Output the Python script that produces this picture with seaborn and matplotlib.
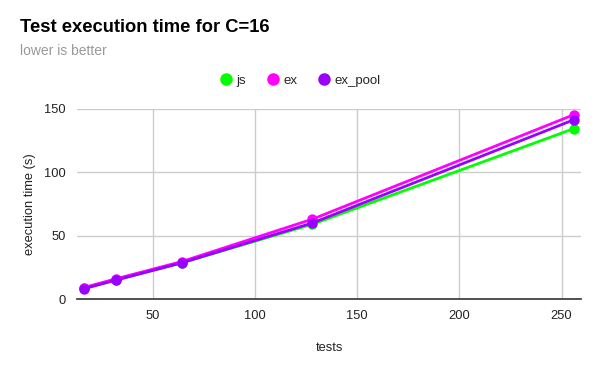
import matplotlib
matplotlib.use("Agg")
import matplotlib.pyplot as plt
import seaborn as sns
import pandas as pd

tests = [16, 32, 64, 128, 256]
js = [8.5, 15, 28.5, 59, 134.5]
ex = [9, 16, 29.5, 63, 145.5]
ex_pool = [8, 15, 28.5, 60, 141.5]
series_names = ["js", "ex", "ex_pool"]
colors = ["#00ff00", "#ff00ff", "#9900ff"]

df = pd.DataFrame({
    "tests": tests * 3,
    "time": js + ex + ex_pool,
    "series": ["js"] * 5 + ["ex"] * 5 + ["ex_pool"] * 5,
})

sns.set_theme(style="white")
plt.rcParams["font.family"] = ["Liberation Sans", "DejaVu Sans"]

fig = plt.figure(figsize=(6, 3.71), dpi=100)
ax = fig.add_axes([77/600, 1-299/371, (581-77)/600, (299-109)/371])

sns.lineplot(data=df, x="tests", y="time", hue="series", hue_order=series_names,
             palette=colors, marker="o", markersize=7.5, markeredgewidth=0,
             linewidth=2, ax=ax, legend=False)

ax.set_xlim(12.8, 259.5)
ax.set_ylim(0, 150)
ax.set_xticks([50, 100, 150, 200, 250])
ax.set_yticks([0, 50, 100, 150])
ax.grid(True, color="#cccccc", linewidth=1)
ax.set_axisbelow(True)
for s in ["top", "right", "left"]:
    ax.spines[s].set_visible(False)
ax.spines["bottom"].set_color("#333333")
ax.spines["bottom"].set_linewidth(1.2)
ax.tick_params(axis="both", length=0, labelsize=9.3, labelcolor="#222222", pad=8)
ax.set_xlabel("tests", fontsize=9.3, color="#222222", labelpad=14)
ax.set_ylabel("execution time (s)", fontsize=9.3, color="#222222", labelpad=6)

fig.text(20/600, 1-32/371, "Test execution time for C=16", fontsize=13.2,
         fontweight="bold", color="#000000", ha="left", va="baseline")
fig.text(20/600, 1-55/371, "lower is better", fontsize=10, color="#999999",
         ha="left", va="baseline")

# legend
handles = [plt.Line2D([], [], marker="o", linestyle="", markersize=9,
                      markerfacecolor=c, markeredgewidth=0) for c in colors]
fig.legend(handles, series_names, loc="center", bbox_to_anchor=(0.5, 1-81/371),
           ncol=3, frameon=False, fontsize=9.5, handletextpad=0.3,
           columnspacing=1.5, handlelength=1.0)

fig.savefig("out.png", dpi=100)
